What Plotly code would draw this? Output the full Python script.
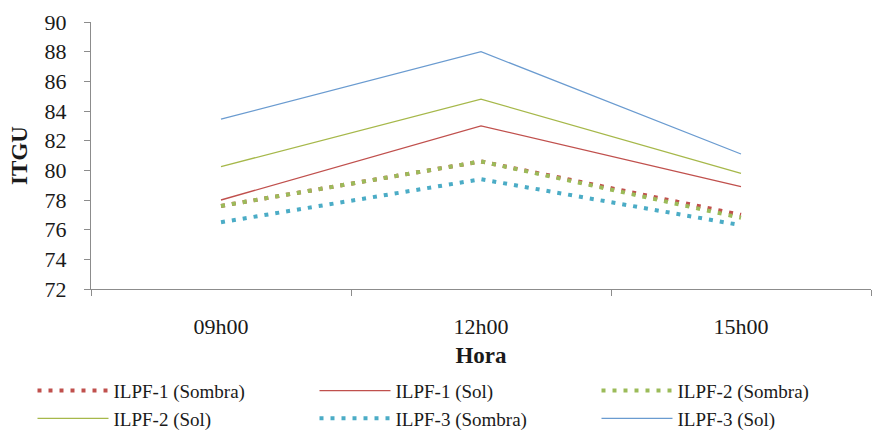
import plotly.graph_objects as go

horas = ["09h00", "12h00", "15h00"]
ilpf1_sombra = [77.6, 80.6, 77.0]
ilpf1_sol = [78.0, 83.0, 78.9]
ilpf2_sombra = [77.6, 80.6, 76.8]
ilpf2_sol = [80.25, 84.8, 79.8]
ilpf3_sombra = [76.5, 79.4, 76.3]
ilpf3_sol = [83.45, 88.0, 81.1]

series = [
    ("ILPF-1 (Sombra)", ilpf1_sombra, "#C0504D", "dot"),
    ("ILPF-1 (Sol)", ilpf1_sol, "#C0504D", "solid"),
    ("ILPF-2 (Sombra)", ilpf2_sombra, "#9BBB59", "dot"),
    ("ILPF-2 (Sol)", ilpf2_sol, "#A6B84A", "solid"),
    ("ILPF-3 (Sombra)", ilpf3_sombra, "#4BACC6", "dot"),
    ("ILPF-3 (Sol)", ilpf3_sol, "#6A9BD0", "solid"),
]

fig = go.Figure()
for name, vals, color, style in series:
    if style == "dot":
        line = dict(color=color, width=4, dash="4px,7px")
    else:
        line = dict(color=color, width=1.3)
    fig.add_trace(go.Scatter(x=horas, y=vals, name=name, mode="lines", line=line))

ff = "Liberation Serif, Times New Roman, serif"
fig.update_layout(
    width=875, height=430,
    margin=dict(l=91, r=4, t=22, b=141, autoexpand=False),
    paper_bgcolor="white", plot_bgcolor="white",
    font=dict(family=ff, color="#1a1a1a", size=19),
    legend=dict(
        orientation="h", x=-0.075, xanchor="left", y=-0.31, yanchor="top",
        entrywidth=196, entrywidthmode="pixels", itemwidth=71,
        font=dict(size=19, family=ff), tracegroupgap=0,
    ),
    showlegend=True,
)
fig.update_xaxes(
    type="category", range=[-0.5, 2.5], showline=True, linecolor="#8c8c8c", linewidth=1,
    ticks="outside", tickson="boundaries", ticklen=6, tickcolor="#8c8c8c",
    showgrid=False, zeroline=False, ticklabelstandoff=18,
    tickfont=dict(size=22, family=ff),
    title=dict(text="<b>Hora</b>", font=dict(size=23, family=ff), standoff=8),
)
fig.update_yaxes(
    range=[72, 90], dtick=2, showline=True, linecolor="#8c8c8c", linewidth=1,
    ticks="outside", ticklen=6, tickcolor="#8c8c8c", showgrid=False, zeroline=False,
    ticklabelstandoff=13, tickfont=dict(size=22, family=ff),
    title=dict(text="<b>ITGU</b>", font=dict(size=23, family=ff), standoff=10),
)
fig.write_html("out.html")
